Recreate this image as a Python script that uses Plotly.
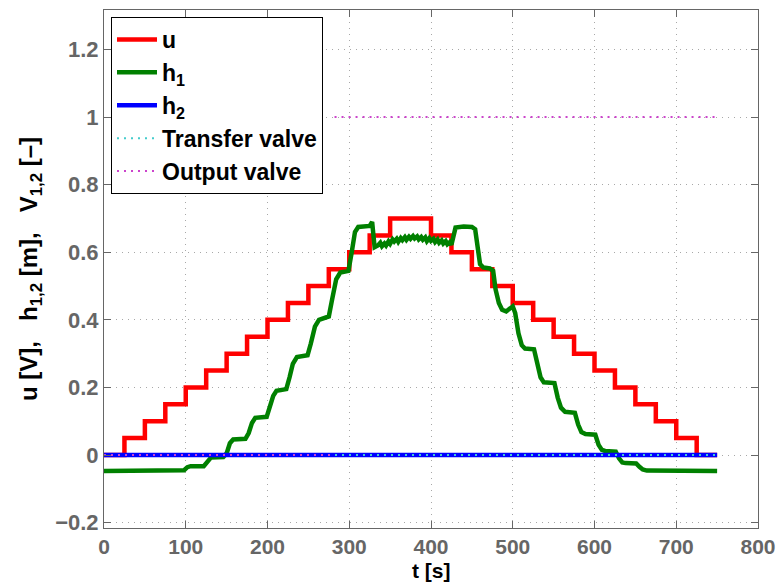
import plotly.graph_objects as go

# ---- data ----
u_t = [0, 25, 50, 75, 100, 125, 150, 175, 200, 225, 250, 275, 300, 325, 350, 375,
       400, 425, 450, 475, 500, 525, 550, 575, 600, 625, 650, 675, 700, 725, 750]
u_v = [0, 0.05, 0.1, 0.15, 0.2, 0.25, 0.3, 0.35, 0.4, 0.45, 0.5, 0.55, 0.6, 0.65, 0.7, 0.7,
       0.65, 0.6, 0.55, 0.5, 0.45, 0.4, 0.35, 0.3, 0.25, 0.2, 0.15, 0.1, 0.05, 0, 0]

h1_t = [0, 20, 50, 80, 98, 102, 106, 122, 127, 131, 146, 150, 154, 158, 173, 177, 181, 185,
        199, 203, 207, 211, 223, 227, 231, 236, 249, 253, 258, 263, 275, 279, 284, 289,
        299, 303, 307, 311, 320, 325, 328, 330, 331,
        335, 338, 340, 343, 345, 348, 350, 353, 355, 358, 360, 363, 365, 368, 370, 373, 375, 378,
        380, 383, 385, 388, 390, 393, 395, 398, 400, 403, 405, 408, 410, 413, 415, 418, 420, 423, 425,
        428, 430, 440, 450, 454, 457, 460, 464, 472, 476, 479, 483, 487, 492, 497, 500, 503,
        507, 511, 515, 526, 530, 534, 538, 551, 555, 559, 564, 576, 580, 584, 589, 601,
        605, 609, 613, 626, 630, 634, 638, 651, 655, 659, 664, 700, 750]
h1_v = [-0.047, -0.046, -0.047, -0.046, -0.045, -0.036, -0.033, -0.033, -0.020, -0.007, -0.006,
        0.005, 0.035, 0.046, 0.048, 0.065, 0.095, 0.110,
        0.113, 0.14, 0.175, 0.19, 0.195, 0.23, 0.27, 0.29, 0.295, 0.33, 0.38, 0.40, 0.41, 0.46, 0.52, 0.54,
        0.545, 0.60, 0.66, 0.675, 0.675, 0.678, 0.69, 0.63, 0.615,
        0.62, 0.628, 0.618, 0.626, 0.62, 0.632, 0.625, 0.638, 0.632, 0.64, 0.631, 0.642, 0.636, 0.645,
        0.637, 0.646, 0.64, 0.648, 0.641, 0.647, 0.638, 0.645, 0.637, 0.644, 0.633, 0.642, 0.634,
        0.64, 0.63, 0.638, 0.628, 0.635, 0.626, 0.633, 0.624, 0.63, 0.622,
        0.66, 0.673, 0.676, 0.675, 0.668, 0.61, 0.565, 0.555, 0.552, 0.545, 0.49, 0.45, 0.43, 0.425,
        0.435, 0.44, 0.42, 0.36, 0.325, 0.315, 0.313, 0.27, 0.23, 0.215, 0.213, 0.17, 0.14, 0.128,
        0.125, 0.09, 0.068, 0.062, 0.06, 0.03, 0.015, 0.012, 0.01, -0.01, -0.022, -0.024, -0.025,
        -0.035, -0.043, -0.046, -0.047, -0.047]

h2_t = [0, 750]
h2_v = [0, 0]

tv_t = [0, 750]
tv_v = [0, 0]

ov_t = [0, 282, None, 282, 750]
ov_v = [0, 0, None, 1, 1]

x_ticks = [0, 100, 200, 300, 400, 500, 600, 700, 800]
y_ticks = [-0.2, 0, 0.2, 0.4, 0.6, 0.8, 1, 1.2]
y_tick_text = ["\u22120.2", "0", "0.2", "0.4", "0.6", "0.8", "1", "1.2"]

FONT = "Liberation Sans"
GRAY = "#666666"
FS = 23
SP = "\u00a0" * 3

fig = go.Figure()
fig.add_trace(go.Scatter(x=u_t, y=u_v, mode="lines", name="u", line_shape="hv",
                         line=dict(color="#ff0000", width=4.5), legendgroup="a"))
fig.add_trace(go.Scatter(x=h1_t, y=h1_v, mode="lines", name="h<sub>1</sub>",
                         line=dict(color="#008000", width=4.5), legendgroup="b"))
fig.add_trace(go.Scatter(x=h2_t, y=h2_v, mode="lines", name="h<sub>2</sub>",
                         line=dict(color="#0000ff", width=4.5), legendgroup="c"))
fig.add_trace(go.Scatter(x=tv_t, y=tv_v, mode="lines", name="Transfer valve",
                         line=dict(color="#44cccc", width=2, dash="2px,5px"), legendgroup="d"))
fig.add_trace(go.Scatter(x=ov_t, y=ov_v, mode="lines", name="Output valve",
                         line=dict(color="#cc44cc", width=2, dash="2px,5px"), legendgroup="e"))

axis_common = dict(
    showline=True, linecolor=GRAY, linewidth=1, mirror="ticks",
    ticks="inside", ticklen=7, tickcolor=GRAY,
    showgrid=True, gridcolor="#a8a8a8", griddash="1px,5px", gridwidth=1,
    zeroline=False, automargin=False,
)

fig.update_layout(
    width=782, height=583,
    margin=dict(l=104, r=24, t=10, b=55),
    paper_bgcolor="white", plot_bgcolor="white",
    xaxis=dict(range=[0, 800], tickvals=x_ticks, **axis_common,
               tickfont=dict(family=FONT, size=21, color=GRAY, weight="bold")),
    yaxis=dict(range=[-0.216, 1.317], tickvals=y_ticks, ticktext=y_tick_text, **axis_common,
               tickfont=dict(family=FONT, size=22, color=GRAY, weight="bold"),
               title=dict(text="u [V]," + SP + "h<sub>1,2</sub> [m]," + SP + "V<sub>1,2</sub> [\u2013]",
                          standoff=10,
                          font=dict(family=FONT, size=24, color="black", weight="bold"))),
    legend=dict(x=0.0107, y=0.9865, xanchor="left", yanchor="top",
                bgcolor="white", bordercolor="black", borderwidth=1,
                font=dict(family=FONT, size=FS, color="black", weight="bold"),
                tracegroupgap=0, itemwidth=40),
    showlegend=True,
    annotations=[dict(text="t [s]", xref="paper", yref="paper", x=0.5, y=-0.1055,
                      xanchor="center", yanchor="bottom", showarrow=False, borderpad=0,
                      font=dict(family=FONT, size=21, color="black", weight="bold"))],
)

fig.write_html("out.html")
